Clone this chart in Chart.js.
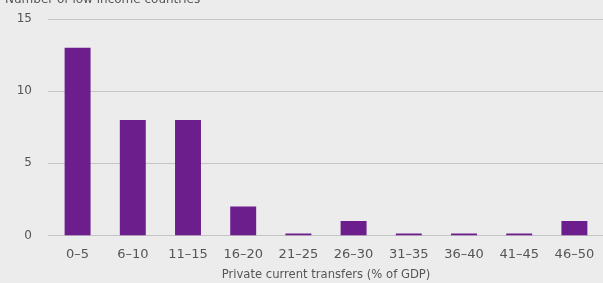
<!DOCTYPE html>
<html>
<head>
<meta charset="utf-8">
<script src="https://cdn.jsdelivr.net/npm/chart.js@4/dist/chart.umd.min.js"></script>
<style>
html,body{margin:0;padding:0;background:#ececec;}
#wrap{position:relative;width:603px;height:283px;overflow:hidden;}
</style>
</head>
<body>
<div id="wrap"><canvas id="c" width="603" height="283"></canvas></div>
<script>
const categories = ['0–5','6–10','11–15','16–20','21–25','26–30','31–35','36–40','41–45','46–50'];
const counts = [13, 8, 8, 2, 0, 1, 0, 0, 0, 1];
const yTicks = [0, 5, 10, 15];
const yTitle = 'Number of low income countries';
const xTitle = 'Private current transfers (% of GDP)';
const FONT = '"DejaVu Sans", Verdana, sans-serif';

const topTitle = {
  id: 'topTitle',
  afterDraw(chart) {
    const ctx = chart.ctx;
    ctx.save();
    ctx.font = '12px ' + FONT;
    ctx.fillStyle = '#555';
    ctx.textBaseline = 'alphabetic';
    ctx.fillText(yTitle, 5, 3);
    ctx.restore();
  }
};
const gridExt = {
  id: 'gridExt',
  beforeDatasetsDraw(chart) {
    const ctx = chart.ctx, y = chart.scales.y, area = chart.chartArea;
    ctx.save();
    ctx.strokeStyle = '#c4c4c4';
    ctx.lineWidth = 1;
    yTicks.forEach(v => {
      const py = Math.round(y.getPixelForValue(v)) + 0.5;
      ctx.beginPath();
      ctx.moveTo(area.left - 2, py);
      ctx.lineTo(chart.width, py);
      ctx.stroke();
    });
    ctx.restore();
  }
};

new Chart(document.getElementById('c'), {
  type: 'bar',
  data: {
    labels: categories,
    datasets: [{
      data: counts,
      backgroundColor: '#6b1e8c',
      borderWidth: 0,
      minBarLength: 2,
      categoryPercentage: 1,
      barPercentage: 0.47
    }]
  },
  options: {
    responsive: false,
    animation: false,
    devicePixelRatio: 1,
    layout: { padding: { top: 19, right: 1, left: 0, bottom: 1 } },
    plugins: { legend: { display: false }, tooltip: { enabled: false } },
    scales: {
      x: {
        grid: { display: false },
        border: { display: false },
        ticks: { color: '#555', font: { size: 13, family: FONT }, padding: 3, maxRotation: 0, autoSkip: false },
        title: { display: true, text: xTitle, color: '#555', font: { size: 11.6, family: FONT }, padding: { top: 3, bottom: 0 } }
      },
      y: {
        min: 0, max: 15,
        afterFit(scale) { scale.width = 50; },
        afterBuildTicks(scale) { scale.ticks = yTicks.map(v => ({ value: v })); },
        grid: { display: false },
        border: { display: false },
        ticks: { color: '#555', font: { size: 12, family: FONT }, padding: 10 }
      }
    }
  },
  plugins: [topTitle, gridExt]
});
</script>
</body>
</html>
